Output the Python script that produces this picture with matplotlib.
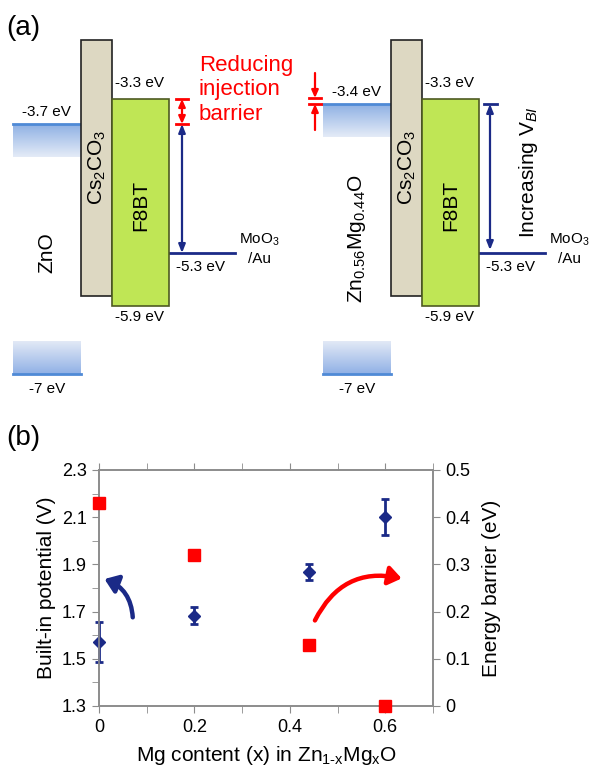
import numpy as np
import matplotlib
matplotlib.use("Agg")
import matplotlib.pyplot as plt
from matplotlib.patches import Rectangle, FancyArrowPatch
from matplotlib.colors import LinearSegmentedColormap
from matplotlib.ticker import MultipleLocator, FixedLocator, FormatStrFormatter

plt.rcParams["font.family"] = ["Liberation Sans", "DejaVu Sans"]
plt.rcParams["mathtext.fontset"] = "custom"
plt.rcParams["mathtext.rm"] = "Liberation Sans"
plt.rcParams["mathtext.it"] = "Liberation Sans:italic"

# --- panel (b) data ---
mg_content = [0, 0.2, 0.44, 0.6]
v_bi = [1.57, 1.683, 1.869, 2.10]
v_bi_err = [0.085, 0.037, 0.033, 0.076]
barrier = [0.43, 0.32, 0.13, 0.0]
vbi_ticks = [1.3, 1.5, 1.7, 1.9, 2.1, 2.3]

# --- panel (a) labels ---
oxides = ["ZnO", r"Zn$_{0.56}$Mg$_{0.44}$O"]
oxide_cb = ["-3.7 eV", "-3.4 eV"]
oxide_vb = ["-7 eV", "-7 eV"]
lumo = "-3.3 eV"
homo = "-5.9 eV"
anode = "-5.3 eV"

NAVY = "#1b2a87"
RED = "#ff0000"
LINE_BLUE = "#4f8ad6"

fig = plt.figure(figsize=(5.92, 7.71), dpi=100)

# schematic drawn in a pixel-like frame over the whole figure
sk = fig.add_axes([0, 0, 1, 1])
sk.set_xlim(0, 592)
sk.set_ylim(771, 0)
sk.axis("off")

cb_cmap = LinearSegmentedColormap.from_list("cb", ["#8fb1e4", "#e4ebf7"])
vb_cmap = LinearSegmentedColormap.from_list("vb", ["#e2e9f6", "#8eafe5"])
grad = np.linspace(0, 1, 64).reshape(-1, 1)

def stack(dx, cb_top, oxide, cb_lab, vb_lab, oxide_y):
    # oxide conduction band
    sk.imshow(grad, extent=(13 + dx, 81 + dx, cb_top + 33, cb_top), cmap=cb_cmap,
              aspect="auto", zorder=1)
    sk.plot([13 + dx, 81 + dx], [cb_top, cb_top], color=LINE_BLUE, lw=2, zorder=2)
    sk.text(22 + dx, cb_top - 12, cb_lab, fontsize=11, va="center", ha="left")
    # oxide valence band
    sk.imshow(grad, extent=(13 + dx, 81 + dx, 375, 341), cmap=vb_cmap,
              aspect="auto", zorder=1)
    sk.plot([13 + dx, 81 + dx], [374, 374], color=LINE_BLUE, lw=2, zorder=2)
    sk.text(47 + dx, 389, vb_lab, fontsize=11, va="center", ha="center")
    sk.text(47 + dx, oxide_y, oxide, fontsize=15, rotation=90, va="center", ha="center")
    # Cs2CO3
    sk.add_patch(Rectangle((81 + dx, 40), 31, 256, facecolor="#ddd8c2",
                           edgecolor="#222222", lw=1.2, zorder=3))
    sk.text(97 + dx, 167, r"Cs$_2$CO$_3$", fontsize=15, rotation=90,
            va="center", ha="center", zorder=5)
    # F8BT
    sk.add_patch(Rectangle((112 + dx, 99), 57, 207, facecolor="#bfe655",
                           edgecolor="#4e5a22", lw=1.2, zorder=4))
    sk.text(141 + dx, 205, "F8BT", fontsize=15, rotation=90,
            va="center", ha="center", zorder=5)
    sk.text(115 + dx, 83, lumo, fontsize=11, va="center")
    sk.text(115 + dx, 317, homo, fontsize=11, va="center")
    # MoO3/Au
    sk.plot([168 + dx, 235 + dx], [253, 253], color=NAVY, lw=2, zorder=3)
    sk.text(176 + dx, 267, anode, fontsize=11, va="center")
    sk.text(259 + dx, 240, r"MoO$_3$", fontsize=11, va="center", ha="center")
    sk.text(259 + dx, 259, "/Au", fontsize=11, va="center", ha="center")

stack(0, 124, oxides[0], oxide_cb[0], oxide_vb[0], 253)
stack(310, 104, oxides[1], oxide_cb[1], oxide_vb[1], 239)

# arrows, left diagram
sk.annotate("", xy=(182, 124), xytext=(182, 253),
            arrowprops=dict(arrowstyle="<|-|>,head_length=0.5,head_width=0.2",
                            color=NAVY, lw=1.6, shrinkA=0, shrinkB=0))
sk.annotate("", xy=(182, 99), xytext=(182, 124),
            arrowprops=dict(arrowstyle="<|-|>,head_length=0.45,head_width=0.2",
                            color=RED, lw=1.6, shrinkA=0, shrinkB=0))
sk.plot([176, 188], [99, 99], color=RED, lw=2)
sk.plot([176, 188], [124, 124], color=RED, lw=2)
sk.text(199, 90, "Reducing\ninjection\nbarrier", color=RED, fontsize=16,
        va="center", ha="left", linespacing=1.2)

# arrows, right diagram
sk.annotate("", xy=(315, 98), xytext=(315, 73),
            arrowprops=dict(arrowstyle="-|>,head_length=0.45,head_width=0.2",
                            color=RED, lw=1.6, shrinkA=0, shrinkB=0))
sk.annotate("", xy=(315, 104), xytext=(315, 130),
            arrowprops=dict(arrowstyle="-|>,head_length=0.45,head_width=0.2",
                            color=RED, lw=1.6, shrinkA=0, shrinkB=0))
sk.plot([309, 321], [98, 98], color=RED, lw=2)
sk.plot([309, 321], [104, 104], color=RED, lw=2)
sk.annotate("", xy=(490, 104), xytext=(490, 250),
            arrowprops=dict(arrowstyle="<|-|>,head_length=0.5,head_width=0.2",
                            color=NAVY, lw=1.6, shrinkA=0, shrinkB=0))
sk.plot([484, 497], [104, 104], color=NAVY, lw=2)
sk.text(529, 172, r"Increasing V$_{\mathit{BI}}$", fontsize=15, rotation=90,
        va="center", ha="center")

sk.text(6, 28, "(a)", fontsize=20, va="center")
sk.text(6, 438, "(b)", fontsize=20, va="center")

# --- panel (b) ---
ax = fig.add_axes([99 / 592, 65 / 771, 334 / 592, 236 / 771])
ax2 = ax.twinx()

ax.errorbar(mg_content, v_bi, yerr=v_bi_err, fmt="D", color=NAVY, ms=6,
            elinewidth=2, capsize=3, capthick=2, clip_on=False, zorder=5)
ax2.plot(mg_content, barrier, "s", color=RED, ms=8, clip_on=False, zorder=5)

ax.set_xlim(0, 0.7)
ax.set_ylim(1.3, 2.3)
ax2.set_ylim(0, 0.5)

ax.xaxis.set_major_locator(MultipleLocator(0.2))
ax.xaxis.set_minor_locator(MultipleLocator(0.1))
ax.yaxis.set_major_locator(FixedLocator(vbi_ticks))
ax.yaxis.set_minor_locator(MultipleLocator(0.1))
ax2.yaxis.set_major_locator(MultipleLocator(0.1))
ax.xaxis.set_major_formatter(FormatStrFormatter("%g"))
ax.yaxis.set_major_formatter(FormatStrFormatter("%.1f"))
ax2.yaxis.set_major_formatter(FormatStrFormatter("%g"))

for a in (ax, ax2):
    for s in a.spines.values():
        s.set_color("#8c8c8c")
        s.set_linewidth(1.2)
ax.tick_params(which="both", direction="out", color="#8c8c8c", top=True,
               labelsize=13, pad=4, length=5)
ax2.tick_params(direction="out", color="#8c8c8c", length=5, labelsize=13, pad=4)

ax.set_xlabel(r"Mg content (x) in Zn$_{\text{1-x}}$Mg$_{\text{x}}$O", fontsize=15, labelpad=6)
ax.set_ylabel("Built-in potential (V)", fontsize=15, labelpad=4)
ax2.set_ylabel("Energy barrier (eV)", fontsize=15, labelpad=8)

# trend arrows
ax.add_patch(FancyArrowPatch((0.071, 1.664), (0.006, 1.842),
                             connectionstyle="arc3,rad=0.35",
                             arrowstyle="-|>,head_length=0.55,head_width=0.4",
                             mutation_scale=14, color=NAVY, lw=3.2, zorder=4))
ax.add_patch(FancyArrowPatch((0.45, 1.652), (0.64, 1.838),
                             connectionstyle="arc3,rad=-0.4",
                             arrowstyle="-|>,head_length=0.55,head_width=0.4",
                             mutation_scale=14, color=RED, lw=3.2, zorder=4,
                             clip_on=False))

plt.savefig("out.png", dpi=100)
